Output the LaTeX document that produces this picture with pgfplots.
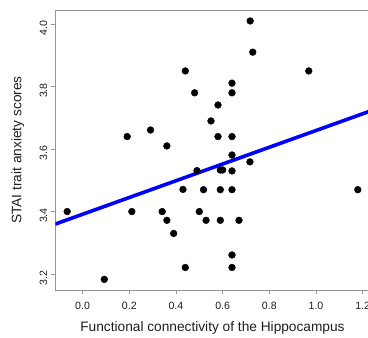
\documentclass[border=0pt]{standalone}
\usepackage{pgfplots}
\pgfplotsset{compat=1.18}
\usepackage{fontspec}
\setmainfont{Liberation Sans}

\definecolor{boxgray}{RGB}{150,150,150}
\definecolor{txt}{RGB}{30,30,30}

\begin{document}
\begin{tikzpicture}
% page extent, cut just inside the right frame line
\path[use as bounding box] (-55.3pt,-48pt) rectangle (312.7pt,290pt);
\begin{axis}[
  at={(0,0)}, anchor=south west,
  scale only axis,
  width=314.4pt, height=280pt,
  xmin=-0.117, xmax=1.230,
  ymin=3.149, ymax=4.045,
  xtick={0,0.2,...,1.2},
  ytick={3.2,3.4,...,4.0},
  /pgf/number format/.cd, fixed, fixed zerofill, precision=1, assume math mode=true,
  /pgfplots/.cd,
  tick align=outside,
  major tick length=4.5pt,
  xtick pos=bottom, ytick pos=left,
  axis line style={boxgray, line width=0.8pt},
  every tick/.style={boxgray, line width=0.8pt},
  tick label style={font=\fontsize{10.6}{12}\selectfont, text=txt},
  xticklabel style={yshift=-4pt},
  yticklabel style={rotate=90, anchor=south, xshift=-4pt},
  label style={font=\fontsize{13.7}{16}\selectfont, text=txt},
  xlabel={Functional connectivity of the Hippocampus},
  ylabel={STAI trait anxiety scores},
  xlabel style={at={(axis description cs:0.5,-0.1346)}, anchor=center},
  ylabel style={at={(axis description cs:-0.1193,0.5)}, anchor=center},
  clip=true,
]
% subjects
\addplot[only marks, mark=*, mark size=3.4pt, black] coordinates {
  (0.718,4.010) (0.729,3.910) (0.440,3.850) (0.969,3.850)
  (0.640,3.811) (0.480,3.780) (0.640,3.780) (0.580,3.741)
  (0.550,3.690) (0.191,3.640) (0.291,3.661) (0.580,3.640)
  (0.640,3.640) (0.361,3.610) (0.640,3.581) (0.717,3.559)
  (0.490,3.531) (0.590,3.533) (0.600,3.533) (0.640,3.530)
  (0.430,3.471) (0.518,3.470) (0.590,3.470) (0.640,3.470)
  (1.179,3.470) (-0.066,3.400) (0.211,3.400) (0.341,3.400)
  (0.500,3.400) (0.361,3.372) (0.529,3.372) (0.590,3.372)
  (0.670,3.372) (0.390,3.330) (0.640,3.261) (0.440,3.221)
  (0.640,3.221) (0.093,3.183)
};
% least-squares fit
\addplot[blue, line width=3.6pt] coordinates {(-0.117,3.360) (1.230,3.721)};
\end{axis}
\end{tikzpicture}
\end{document}
